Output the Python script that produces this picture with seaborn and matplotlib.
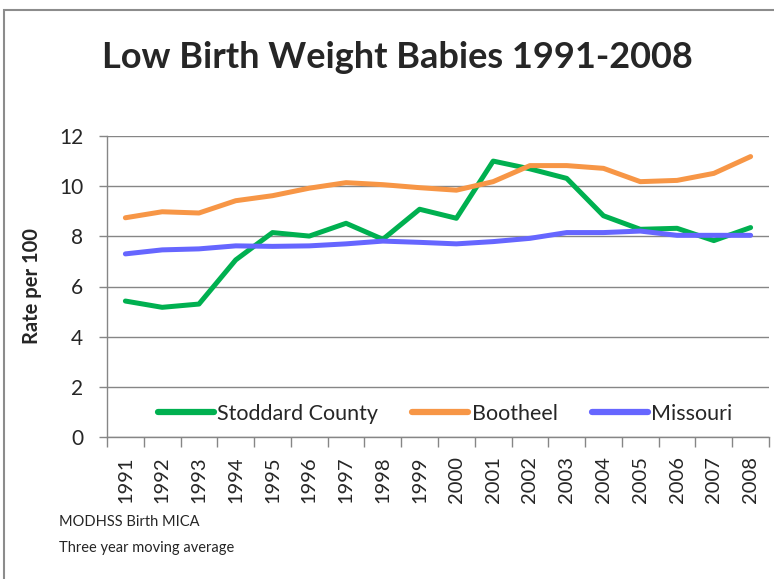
import matplotlib
matplotlib.use("Agg")
import matplotlib.pyplot as plt
import seaborn as sns
import pandas as pd
import numpy as np
from matplotlib.patches import Rectangle

years = [str(y) for y in range(1991, 2009)]
stoddard = [5.42, 5.17, 5.30, 7.06, 8.15, 8.01, 8.52, 7.88, 9.08, 8.72,
            11.0, 10.69, 10.31, 8.82, 8.28, 8.32, 7.83, 8.35]
bootheel = [8.74, 8.98, 8.93, 9.42, 9.62, 9.92, 10.14, 10.06, 9.94, 9.84,
            10.18, 10.82, 10.82, 10.71, 10.18, 10.23, 10.51, 11.18]
missouri = [7.30, 7.46, 7.50, 7.62, 7.60, 7.62, 7.70, 7.81, 7.76, 7.70,
            7.79, 7.92, 8.15, 8.15, 8.21, 8.04, 8.04, 8.04]
series_names = ["Stoddard County", "Bootheel", "Missouri"]
colors = ["#00B050", "#F79646", "#6666FF"]

df = pd.concat([
    pd.DataFrame({"idx": np.arange(len(years)), "Year": years, "Rate": vals, "Series": name})
    for name, vals in zip(series_names, [stoddard, bootheel, missouri])
])

sns.set_theme(style="white")
plt.rcParams['font.family'] = ['Lato', 'DejaVu Sans']

fig = plt.figure(figsize=(7.74, 5.79), dpi=100)
ax = fig.add_axes([107/774, 1-437/579, 662/774, 301/579])

sns.lineplot(data=df, x="idx", y="Rate", hue="Series", palette=colors,
             linewidth=3.6, ax=ax, sort=False)

ax.set_xlim(-0.5, len(years)-0.5)
ax.set_ylim(0, 12)
ax.set_yticks(np.arange(0, 13, 2))
ax.set_yticklabels([str(v) for v in range(0, 13, 2)], fontsize=15)
ax.yaxis.grid(True, color="#868686", linewidth=1.0)
ax.set_axisbelow(True)
ax.set_xticks(np.arange(len(years)))
ax.set_xticklabels(years, rotation=90, fontsize=14.5)
ax.set_xticks(np.arange(-0.5, len(years), 1), minor=True)
ax.tick_params(axis="x", which="major", length=0, pad=14)
ax.tick_params(axis="x", which="minor", length=7, color="#868686", width=1, bottom=True)
ax.tick_params(axis="y", which="major", length=6, color="#868686", width=1, left=True, pad=11)
for s in ["top", "right"]:
    ax.spines[s].set_visible(False)
for s in ["left", "bottom"]:
    ax.spines[s].set_color("#868686")
    ax.spines[s].set_linewidth(1.0)
ax.set_xlabel("")
ax.set_ylabel("")
fig.text(32/774, 1-286/579, "Rate per 100", rotation=90, ha="center", va="center",
         fontsize=14.5, fontweight="bold")

leg = ax.legend(loc="center", bbox_to_anchor=((445-107)/662, 1-(414-136)/301), ncol=3,
                frameon=False, fontsize=15.5, handlelength=2.6, handletextpad=0.15,
                columnspacing=1.6)
for line in leg.get_lines():
    line.set_linewidth(4.5)

fig.text(397/774, 1-57/579, "Low Birth Weight Babies 1991-2008", ha="center", va="center",
         fontsize=26, fontweight="bold")
fig.text(59/774, 1-522/579, "MODHSS Birth MICA", fontsize=10.5, va="center")
fig.text(59/774, 1-548/579, "Three year moving average", fontsize=10.5, va="center")

fig.patches.append(Rectangle((4/774, -0.1), 1.2, 1-10/579+0.1, transform=fig.transFigure,
                             fill=False, edgecolor="#8C8C8C", linewidth=1.5))

fig.savefig("out.png", dpi=100)
